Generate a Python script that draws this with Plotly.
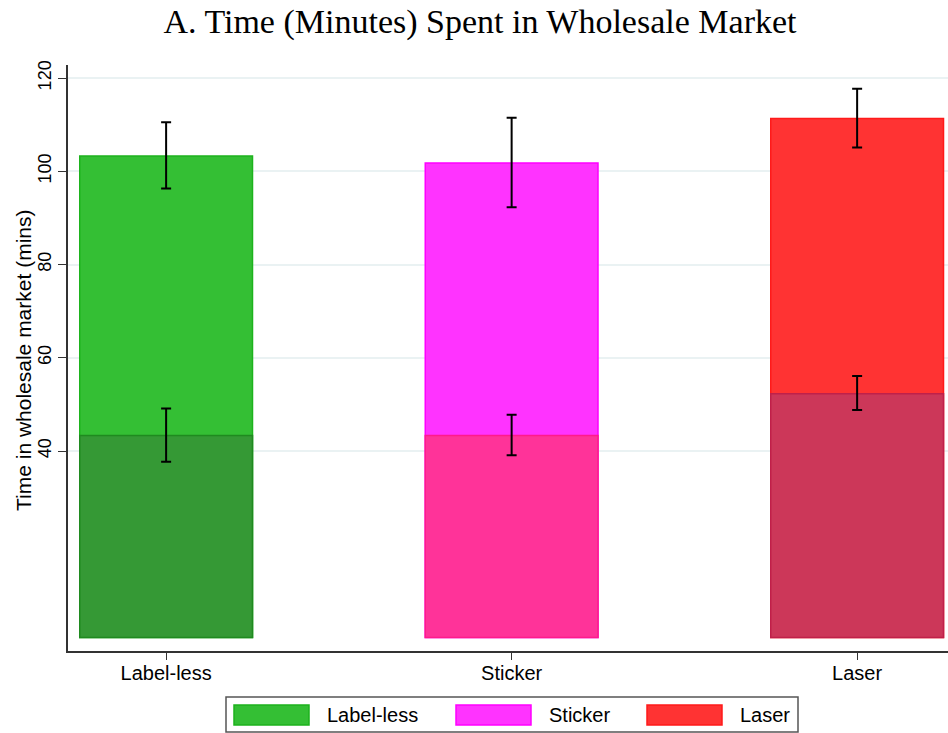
import plotly.graph_objects as go

# ---------------- data ----------------
categories = ["Label-less", "Sticker", "Laser"]
total_mean = [103.3, 101.8, 111.3]
total_ci_lo = [96.3, 92.3, 105.1]
total_ci_hi = [110.5, 111.5, 117.7]
sub_mean = [43.3, 43.3, 52.3]
sub_ci_lo = [37.7, 39.1, 48.8]
sub_ci_hi = [49.1, 47.8, 56.1]
y_ticks = [40, 60, 80, 100, 120]

title_text = "A. Time (Minutes) Spent in Wholesale Market"
y_title = "Time in wholesale market (mins)"

# ---------------- styles ----------------
top_fill = ["#34bf34", "#ff33ff", "#ff3333"]
top_line = ["#1db31d", "#ff00ff", "#ff1a1a"]
sub_fill = ["#359935", "#ff3399", "#cc3759"]
sub_line = ["#1f8a1f", "#ff1a8c", "#c0204a"]

W, H = 948, 733
ML, MR, MT, MB = 68, 0, 65, 82
PW, PH = W - ML - MR, H - MT - MB


def px2x(px):
    return (px - ML) / PW


def py2y(py):
    return (H - MB - py) / PH


def err(mean, lo, hi):
    return dict(type="data", symmetric=False,
                array=[h - m for m, h in zip(mean, hi)],
                arrayminus=[m - l for m, l in zip(mean, lo)],
                color="black", thickness=2, width=5)


fig = go.Figure()
fig.add_trace(go.Bar(
    x=categories, y=total_mean, width=0.5,
    marker=dict(color=top_fill, line=dict(color=top_line, width=1.5)),
    error_y=err(total_mean, total_ci_lo, total_ci_hi),
    showlegend=False,
))
fig.add_trace(go.Bar(
    x=categories, y=sub_mean, width=0.5,
    marker=dict(color=sub_fill, line=dict(color=sub_line, width=1.5)),
    error_y=err(sub_mean, sub_ci_lo, sub_ci_hi),
    showlegend=False,
))

font_sans = "Liberation Sans, Arial, Helvetica, sans-serif"

fig.update_layout(
    width=W, height=H,
    margin=dict(l=ML, r=MR, t=MT, b=MB, pad=0),
    barmode="overlay",
    plot_bgcolor="white", paper_bgcolor="white",
    font=dict(family=font_sans, color="black", size=18),
    title=dict(text=title_text, x=480 / W, xref="container", xanchor="center",
               y=1 - 21 / H, yref="container", yanchor="middle",
               font=dict(family="Liberation Serif, Times New Roman, serif",
                         size=34, color="black")),
    xaxis=dict(range=[-0.284, 2.263], showline=True, linecolor="#333333",
               linewidth=1.5, ticks="outside", ticklen=7, tickcolor="#333333",
               tickwidth=1.2, showgrid=False, zeroline=False,
               ticklabelstandoff=-4,
               tickfont=dict(size=20, family=font_sans)),
    yaxis=dict(range=[-2.9, 122.8], tickvals=y_ticks, showline=True,
               linecolor="#333333", linewidth=1.5, ticks="outside", ticklen=8,
               tickcolor="#333333", tickwidth=1.2, tickangle=-90,
               showgrid=True, gridcolor="#eaf2f3", gridwidth=1.5,
               zeroline=False, tickfont=dict(size=18, family=font_sans)),
)

# y-axis title
fig.add_annotation(text=y_title, xref="paper", yref="paper",
                   x=px2x(23), y=py2y(361), textangle=-90, showarrow=False,
                   xanchor="center", yanchor="middle",
                   font=dict(size=21, family=font_sans, color="black"))

# custom legend (Stata style)
fig.add_shape(type="rect", xref="paper", yref="paper",
              x0=px2x(226), x1=px2x(798), y0=py2y(732), y1=py2y(697),
              line=dict(color="#555555", width=1.5), fillcolor="white",
              layer="above")
sw_left = [234, 456, 647]
txt_left = [325, 547, 738]
for i, cat in enumerate(categories):
    fig.add_shape(type="rect", xref="paper", yref="paper",
                  x0=px2x(sw_left[i]), x1=px2x(sw_left[i] + 75),
                  y0=py2y(725), y1=py2y(705),
                  line=dict(color=top_line[i], width=1.5),
                  fillcolor=top_fill[i], layer="above")
    fig.add_annotation(text=cat, xref="paper", yref="paper",
                       x=px2x(txt_left[i]), y=py2y(715), showarrow=False,
                       xanchor="left", yanchor="middle",
                       font=dict(size=20, family=font_sans, color="black"))

fig.write_html("out.html")
